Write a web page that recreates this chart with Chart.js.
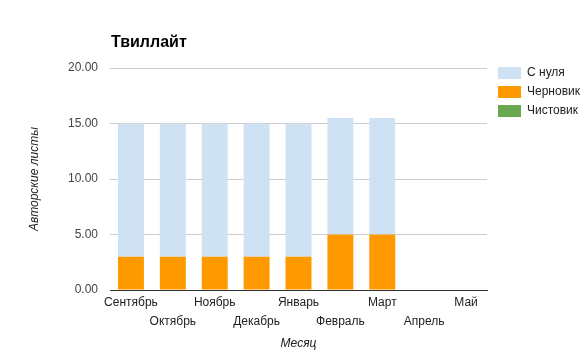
<!DOCTYPE html>
<html>
<head>
<meta charset="utf-8">
<script src="https://cdn.jsdelivr.net/npm/chart.js@4"></script>
<style>
html,body{margin:0;padding:0;background:#fff;}
#wrap{width:585px;height:355px;position:relative;}
</style>
</head>
<body>
<div id="wrap"><canvas id="c" width="585" height="355"></canvas></div>
<script>
const categories = ['Сентябрь','Октябрь','Ноябрь','Декабрь','Январь','Февраль','Март','Апрель','Май'];
const fromScratch = [12, 12, 12, 12, 12, 10.5, 10.5, 0, 0];
const draft = [3, 3, 3, 3, 3, 5, 5, 0, 0];
const clean = [0, 0, 0, 0, 0, 0, 0, 0, 0];
const yTicks = [0, 5, 10, 15, 20];
const chartTitle = 'Твиллайт';
const yTitle = 'Авторские листы';
const xTitle = 'Месяц';

const FONT = '"Liberation Sans", Arial, sans-serif';
Chart.defaults.font.family = FONT;
Chart.defaults.font.size = 12;
Chart.defaults.color = '#444';

const layoutPlugin = {
  id: 'layoutTweaks',
  beforeUpdate(chart) {
    const lg = chart.legend;
    if (lg && !lg._wrapped) {
      const f = lg.fit.bind(lg);
      lg.fit = function () { f(); this.width = 98; };
      lg._wrapped = true;
    }
  },
  afterLayout(chart) {
    const lg = chart.legend;
    if (lg) {
      const w = lg.right - lg.left;
      lg.left = 491; lg.right = lg.left + w;
      const h = lg.bottom - lg.top;
      lg.top = 60; lg.bottom = lg.top + h;
    }
  },
  afterDraw(chart) {
    const ctx = chart.ctx;
    ctx.save();
    ctx.font = 'bold 16px ' + FONT;
    ctx.fillStyle = '#000';
    ctx.textBaseline = 'alphabetic';
    ctx.textAlign = 'left';
    ctx.fillText(chartTitle, chart.chartArea.left + 1, 47);
    ctx.restore();
  }
};

new Chart(document.getElementById('c'), {
  type: 'bar',
  data: {
    labels: categories.map((c, i) => i % 2 === 1 ? ['', c] : [c]),
    datasets: [
      { label: 'С нуля', data: fromScratch, backgroundColor: '#cfe2f3', order: 2 },
      { label: 'Черновик', data: draft, backgroundColor: '#ff9900', order: 1 },
      { label: 'Чистовик', data: clean, backgroundColor: '#6aa84f', order: 3 }
    ].map(d => Object.assign(d, { stack: 's', barPercentage: 0.62, categoryPercentage: 1.0, borderWidth: 0 }))
  },
  options: {
    responsive: false,
    animation: false,
    layout: { padding: { top: 68, left: 10, right: 0, bottom: 4 } },
    plugins: {
      legend: {
        position: 'right',
        align: 'start',
        labels: {
          boxWidth: 23, boxHeight: 12, padding: 7,
          color: '#222', font: { size: 12 },
          sort: (a, b) => a.datasetIndex - b.datasetIndex
        }
      },
      title: { display: false },
      tooltip: { enabled: false }
    },
    scales: {
      x: {
        stacked: true,
        grid: { display: false, drawTicks: false },
        border: { color: '#333', width: 1 },
        ticks: { maxRotation: 0, autoSkip: false, color: '#222', padding: 3, font: { size: 12, lineHeight: 1.6 } },
        title: { display: true, text: xTitle, font: { style: 'italic', size: 12 }, color: '#222', padding: { top: 4, bottom: 0 } },
        afterFit(s) { s.height = 61; }
      },
      y: {
        stacked: true,
        min: 0, max: 20,
        afterBuildTicks(s) { s.ticks = yTicks.map(v => ({ value: v })); },
        grid: { color: '#cccccc', drawTicks: false },
        border: { display: false },
        ticks: { padding: 12, color: '#444', callback: v => Number(v).toFixed(2) },
        title: { display: true, text: yTitle, font: { style: 'italic', size: 12 }, color: '#222', padding: { top: 17, bottom: 0 } },
        afterFit(s) { s.width = 100; }
      }
    }
  },
  plugins: [layoutPlugin]
});
</script>
</body>
</html>
